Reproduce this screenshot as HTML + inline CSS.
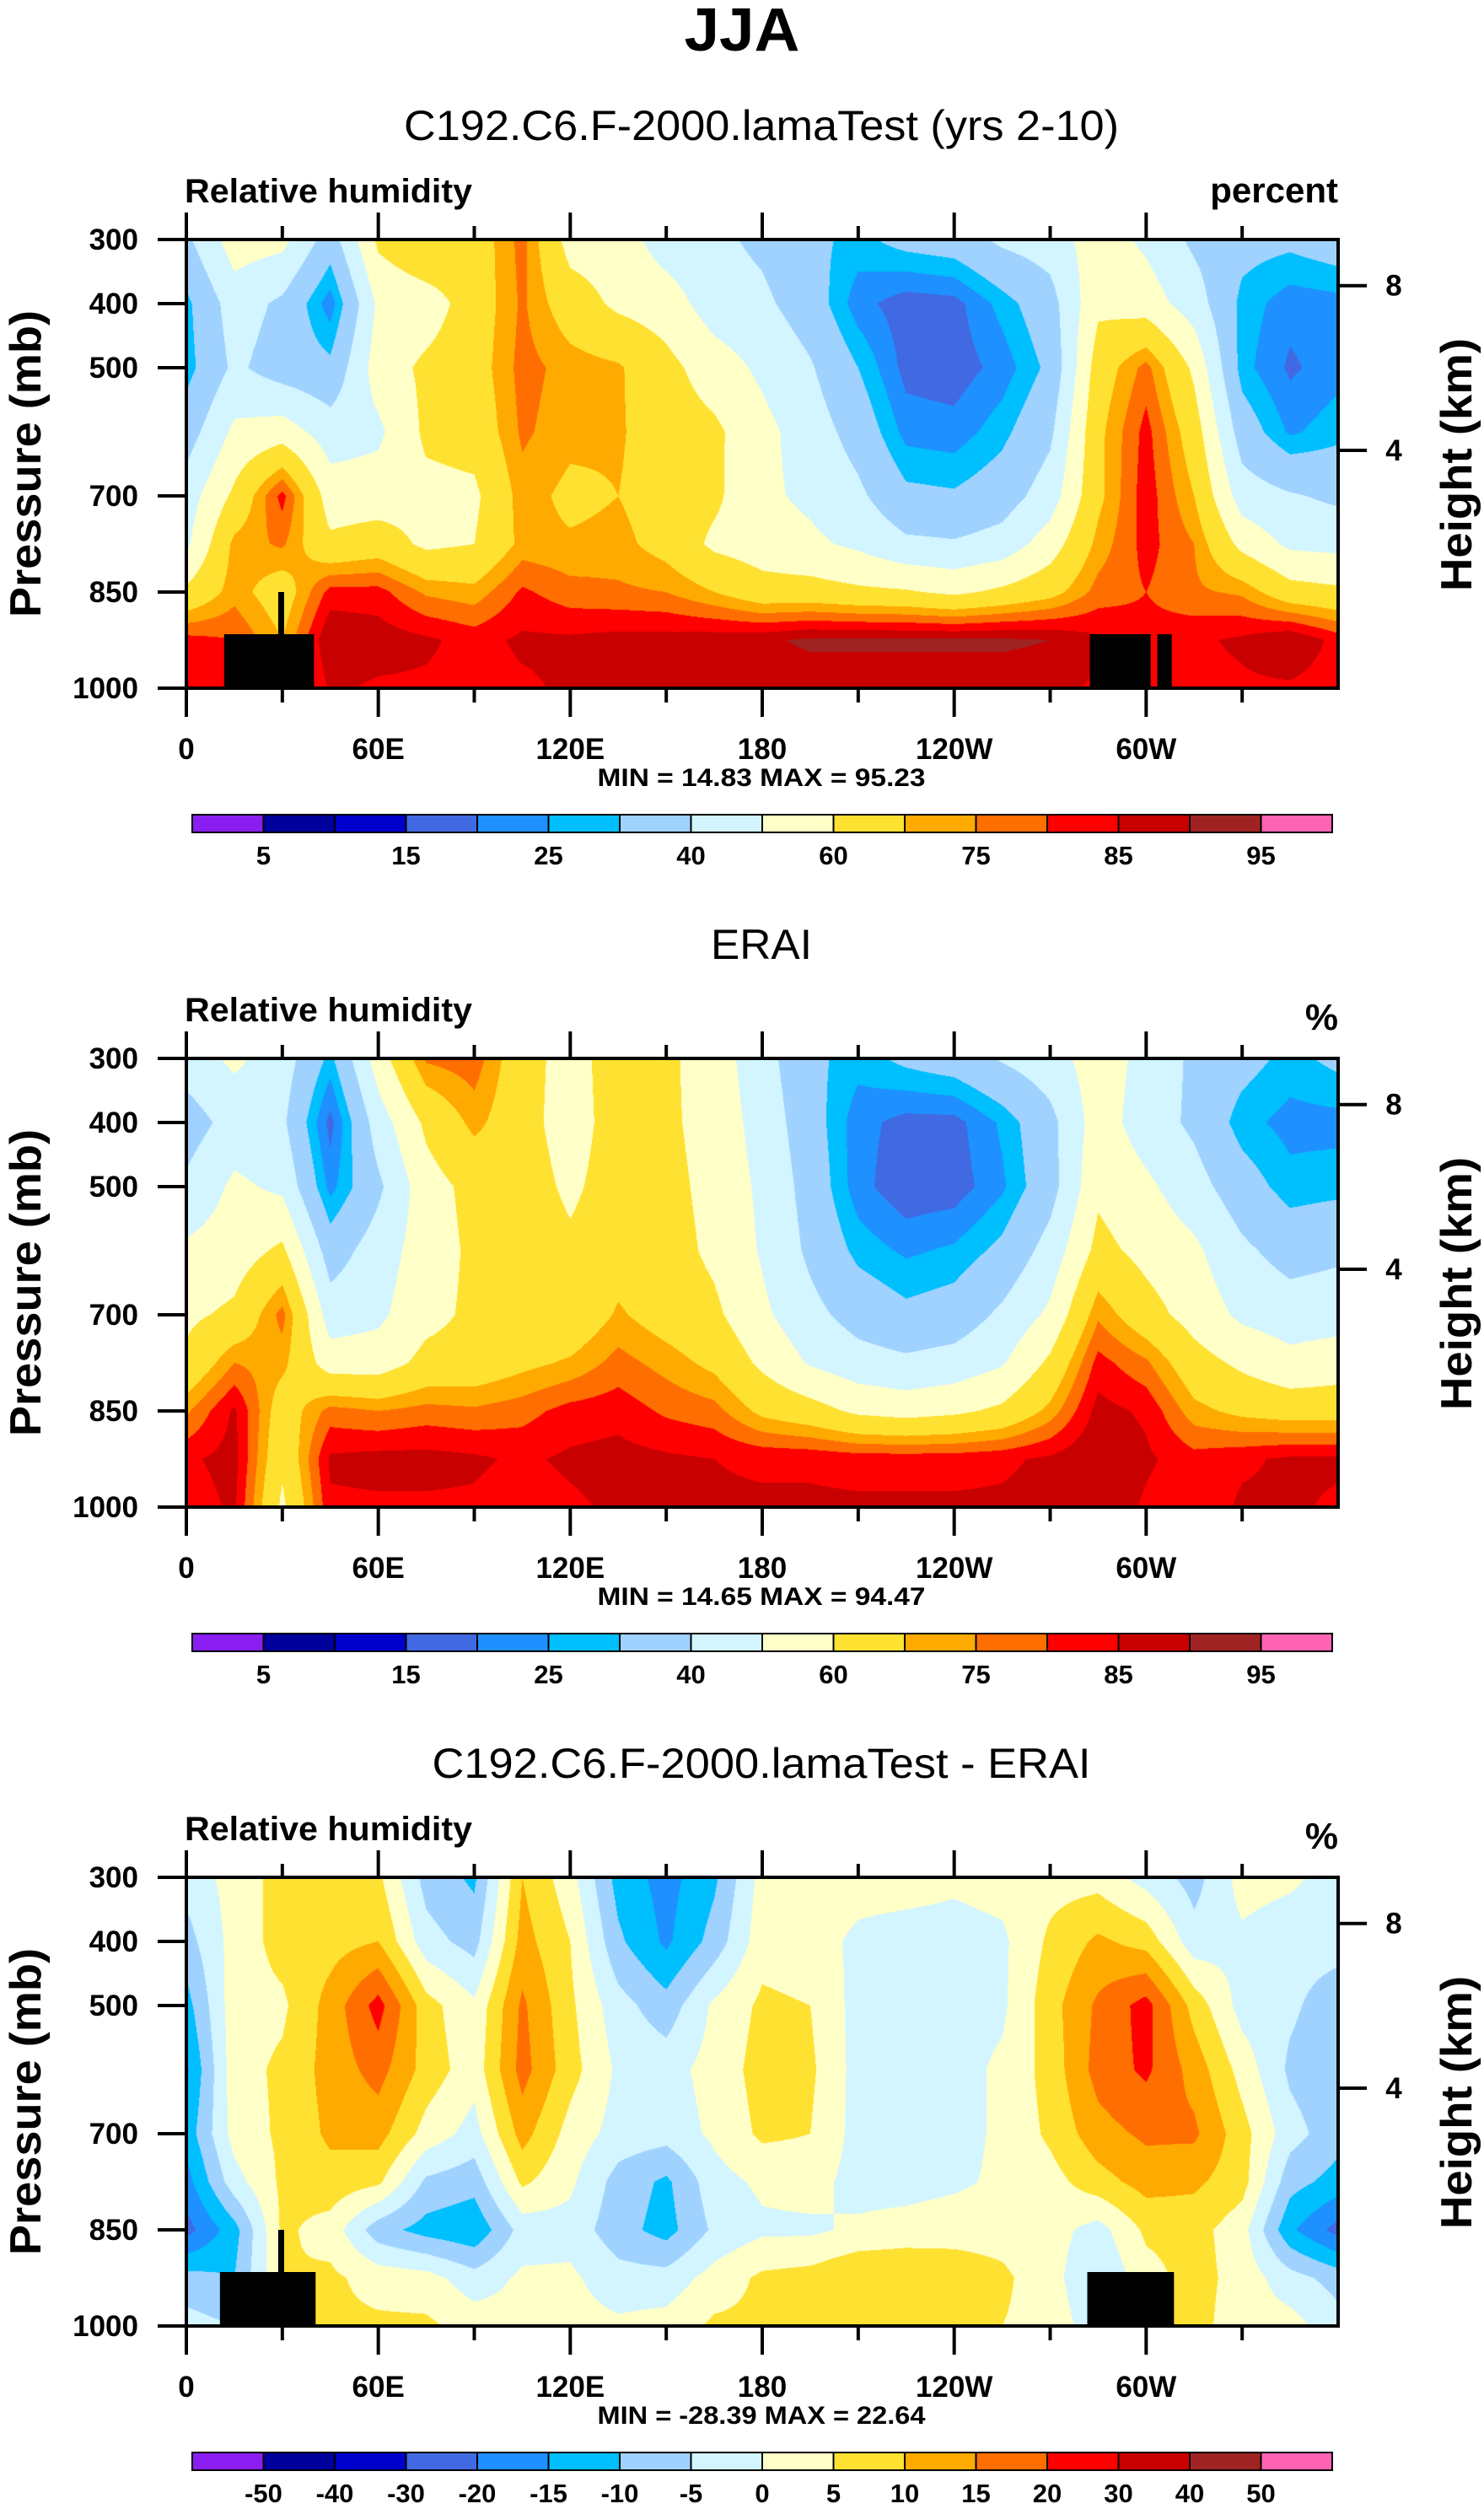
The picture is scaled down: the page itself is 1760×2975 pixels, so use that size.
<!DOCTYPE html>
<html><head><meta charset="utf-8"><title>JJA Relative humidity</title>
<style>
html,body{margin:0;padding:0;background:#fff;}
#root{position:relative;width:1760px;height:2975px;overflow:hidden;background:#fff;}
canvas{position:absolute;}
svg{position:absolute;left:0;top:0;}
text{font-family:"Liberation Sans",Arial,sans-serif;fill:#000;}
</style></head>
<body>
<div id="root">
<canvas id="c0" width="1366" height="532" style="left:221px;top:284px"></canvas>
<canvas id="c1" width="1366" height="532" style="left:221px;top:1255px"></canvas>
<canvas id="c2" width="1366" height="532" style="left:221px;top:2226px"></canvas>
<svg id="svg" width="1760" height="2975"></svg>
</div>
<script>
// ---- data ----
const lons = [0,15,30,45,60,75,90,105,120,135,150,165,180,195,210,225,240,255,270,285,300,315,330,345,360];
const levels = [300,400,500,600,700,775,850,925,1000];
const xTickLabels = ["0","60E","120E","180","120W","60W"];
const xTickLons = [0,60,120,180,240,300];
const yTickLabels = [300,400,500,700,850,1000];
const hTickLabels = ["8","4"];
const hTickP = [372,629];
const rhLevels = [5,10,15,20,25,30,40,50,60,70,75,80,85,90,95];
const rhLabels = ["5","15","25","40","60","75","85","95"];
const diffLevels = [-50,-40,-30,-20,-15,-10,-5,0,5,10,15,20,30,40,50];
const diffLabels = ["-50","-40","-30","-20","-15","-10","-5","0","5","10","15","20","30","40","50"];
const colors = ["#8a1ef0","#00009c","#0000cd","#4169e1","#1e90ff","#00bfff","#a0d2ff","#d2f5ff","#ffffc8","#ffe132","#ffaa00","#ff6e00","#ff0000","#c80000","#a02323","#ff64b4"];
// model RH: one row per longitude, values from 300 to 1000 mb
const modelRH = [
[38,28,27,35,45,48,62,82,82],[55,45,42,52,62,72,73,80,80],[53,38,35,55,82,76,65,70,70],
[35,22,32,45,55,62,82,90,86],[62,52,55,48,55,65,82,88,84],[70,55,62,62,57,58,74,86,84],
[65,65,66,64,58,60,72,83,83],[77,76,77,76,73,72,81,86,84],[56,65,73,72,68,71,77,86,86],
[55,58,71,71,70,72,76,87,87],[45,55,63,65,66,67,75,87,87],[42,45,55,62,62,58,70,88,87],
[38,42,48,53,52,55,64,89,87],[32,35,41,45,48,52,64,91,87],[28,22,30,36,42,48,62,91,87],
[33,17,18,23,32,42,61,91,87],[35,18,17,22,31,41,58,91,87],[42,27,22,28,35,44,62,91,87],
[45,36,32,38,45,55,67,90,87],[55,58,65,68,68,72,77,86,84],[48,55,77,82,83,82,80,82,82],
[38,45,58,65,70,75,76,84,83],[33,28,27,35,45,57,74,86,84],[32,22,19,24,41,48,64,90,84],
[35,23,23,28,38,47,62,83,82]];
const eraiRH = [
[45,35,42,52,58,62,74,84,82],[52,44,52,55,62,75,86,87,86],[45,42,48,62,77,72,65,62,58],
[28,18,23,35,45,55,77,86,84],[55,45,38,45,48,55,75,87,84],[76,62,56,55,57,63,77,87,84],
[78,72,63,62,62,64,76,86,84],[64,64,65,66,66,68,78,84,82],[56,55,58,62,63,71,82,86,84],
[65,65,65,66,71,77,83,87,86],[62,62,63,64,66,73,79,86,86],[55,56,57,58,62,68,77,85,86],
[44,46,48,49,52,58,68,84,86],[32,34,36,38,43,49,64,84,86],[27,22,22,28,36,44,58,83,86],
[32,18,16,24,32,42,56,83,86],[35,18,17,26,34,44,58,83,86],[41,26,24,32,42,49,62,84,86],
[46,37,36,44,52,62,72,86,87],[55,55,58,63,74,82,87,90,90],[47,45,52,57,64,76,84,86,84],
[38,38,44,52,56,64,72,82,81],[33,27,34,42,48,58,68,84,86],[28,23,27,36,45,53,66,86,86],
[32,23,28,38,46,55,66,86,84]];
const diffRH = [
[-3,-7,-12,-16,-13,-17,-22,-8,-3],[2,2,3,3,2,-2,-12,-10,-5],[7,7,4,6,6,6,6,5,5],
[8,8,12,12,11,8,3,6,6],[6,10,22,17,12,6,-8,3,6],[-7,-3,7,8,3,-6,-12,2,6],
[-11,-7,1,2,-2,-8,-14,-3,3],[10,12,16,17,12,6,-3,1,2],[2,5,6,7,3,1,-2,1,2],
[-12,-9,-3,-1,-2,-7,-8,-3,1],[-17,-16,-8,-2,-3,-11,-12,-3,2],[-11,-8,1,2,1,-2,-4,2,6],
[2,3,6,7,6,1,-1,6,6],[3,2,5,6,5,2,-1,7,6],[2,-1,-2,-2,-2,-2,1,10,7],
[2,-2,-3,-2,-2,-2,2,10,7],[1,-2,-2,-2,-2,-1,3,8,6],[2,-1,-1,1,1,1,3,6,5],
[3,6,8,7,6,3,2,2,3],[3,11,16,17,13,8,-2,-5,-3],[-2,8,22,21,16,12,6,3,3],
[-7,-3,8,13,16,11,7,7,7],[2,-1,-2,3,7,7,2,3,2],[1,-3,-4,-6,-3,-8,-14,-3,2],
[-2,-3,-8,-9,-8,-12,-22,-7,-3]];
// land mask blocks (lon ranges) per panel
const landBlocksA = [[11.8,39.9],[282.4,301.4],[303.5,308]];
const landBlocksC = [[10.5,40.4],[281.6,308.7]];
const landSpikeLon = 29.5;

// ---- geometry ----
const X0=221, X1=1587, Y0=284, PH=532, OFF=971;
const xOf = lon => X0 + lon/360*(X1-X0);
const yOf = (p,k) => Y0 + k*OFF + (p-300)/700*PH;
const NS="http://www.w3.org/2000/svg";
const svg=document.getElementById('svg');
function el(tag, attrs, parent){const e=document.createElementNS(NS,tag);for(const k in attrs)e.setAttribute(k,attrs[k]);(parent||svg).appendChild(e);return e;}
function txt(s,attrs,parent){const e=el('text',attrs,parent);e.textContent=s;return e;}

// ---- contour fill ----
function colorIdx(v,lv){let i=0;while(i<lv.length&&v>=lv[i])i++;return i;}
function hex(c){return [parseInt(c.substr(1,2),16),parseInt(c.substr(3,2),16),parseInt(c.substr(5,2),16)];}
const rgb=colors.map(hex);
function drawField(id,grid,lv){
  const cv=document.getElementById(id),ctx=cv.getContext('2d');
  const W=cv.width,H=cv.height,img=ctx.createImageData(W,H),d=img.data;
  for(let y=0;y<H;y++){
    const p=300+(y+0.5)/H*700;
    let j=0;while(j<levels.length-2&&p>levels[j+1])j++;
    const ty=(p-levels[j])/(levels[j+1]-levels[j]);
    for(let x=0;x<W;x++){
      const lon=(x+0.5)/W*360;
      let i=Math.min(Math.floor(lon/15),lons.length-2);
      const tx=(lon-lons[i])/15;
      const v=(grid[i][j]*(1-tx)+grid[i+1][j]*tx)*(1-ty)+(grid[i][j+1]*(1-tx)+grid[i+1][j+1]*tx)*ty;
      const c=rgb[colorIdx(v,lv)],o=(y*W+x)*4;
      d[o]=c[0];d[o+1]=c[1];d[o+2]=c[2];d[o+3]=255;
    }
  }
  ctx.putImageData(img,0,0);
}
drawField('c0',modelRH,rhLevels);
drawField('c1',eraiRH,rhLevels);
drawField('c2',diffRH,diffLevels);

// ---- titles ----
const t0=txt("JJA",{x:880,y:60,'text-anchor':'middle','font-size':72,'font-weight':'bold',textLength:137,lengthAdjust:'spacingAndGlyphs'});

const subtitles=["C192.C6.F-2000.lamaTest (yrs 2-10)","ERAI","C192.C6.F-2000.lamaTest - ERAI"];
const subLens=[848,120,781];
const units=["percent","%","%"];
const minmax=["MIN =  14.83  MAX =  95.23","MIN =  14.65  MAX =  94.47","MIN = -28.39  MAX =  22.64"];

for(let k=0;k<3;k++){
  const g=el('g',{});
  
  const oy=k*OFF;
  let e=txt(subtitles[k],{x:903,y:166+oy,'text-anchor':'middle','font-size':50,textLength:subLens[k],lengthAdjust:'spacingAndGlyphs'},g);
  
  e=txt("Relative humidity",{x:219,y:240+oy,'font-size':40,'font-weight':'bold',textLength:341,lengthAdjust:'spacingAndGlyphs'},g);
  
  e=txt(units[k],{x:1587,y:(k==0?240:250)+oy,'text-anchor':'end','font-size':k==0?42:44,'font-weight':'bold'},g);
  
  // land
  const blocks=(k==0)?landBlocksA:(k==2?landBlocksC:[]);
  for(const b of blocks){
    e=el('rect',{x:xOf(b[0]),y:yOf(925,k)-7,width:xOf(b[1])-xOf(b[0]),height:yOf(1000,k)-yOf(925,k)+7,fill:'#000'},g);
    
  }
  if(k!=1){
    e=el('rect',{x:xOf(landSpikeLon)-3,y:yOf(850,k),width:7,height:yOf(925,k)-yOf(850,k),fill:'#000'},g);
    
  }
  // frame
  e=el('rect',{x:X0,y:Y0+oy,width:X1-X0,height:PH,fill:'none',stroke:'#000','stroke-width':4},g);
  
  // x ticks
  for(let lon=0;lon<=330;lon+=30){
    const major=lon%60==0, x=xOf(lon);
    el('line',{x1:x,x2:x,y1:Y0+oy-(major?32:16),y2:Y0+oy,stroke:'#000','stroke-width':4},g);
    el('line',{x1:x,x2:x,y1:Y0+oy+PH,y2:Y0+oy+PH+(major?34:17),stroke:'#000','stroke-width':4},g);
  }
  for(let i=0;i<xTickLabels.length;i++){
    e=txt(xTickLabels[i],{x:xOf(xTickLons[i]),y:900+oy,'text-anchor':'middle','font-size':35,'font-weight':'bold'},g);
    
  }
  for(const p of yTickLabels){
    const y=yOf(p,k);
    el('line',{x1:187,x2:X0,y1:y,y2:y,stroke:'#000','stroke-width':4},g);
    e=txt(String(p),{x:164,y:y+12,'text-anchor':'end','font-size':35,'font-weight':'bold'},g);
    
  }
  for(let i=0;i<hTickLabels.length;i++){
    const y=yOf(hTickP[i],k);
    el('line',{x1:X1,x2:1621,y1:y,y2:y,stroke:'#000','stroke-width':4},g);
    e=txt(hTickLabels[i],{x:1653,y:y+12,'text-anchor':'middle','font-size':35,'font-weight':'bold'},g);
    
  }
  e=txt("Pressure (mb)",{x:0,y:0,'text-anchor':'middle','font-size':52,'font-weight':'bold',textLength:364,lengthAdjust:'spacingAndGlyphs',transform:`translate(48,${550+oy}) rotate(-90)`},g);
  
  e=txt("Height (km)",{x:0,y:0,'text-anchor':'middle','font-size':52,'font-weight':'bold',textLength:300,lengthAdjust:'spacingAndGlyphs',transform:`translate(1745,${551+oy}) rotate(-90)`},g);
  
  e=txt(minmax[k],{x:903,y:932+oy,'text-anchor':'middle','font-size':30,'font-weight':'bold',textLength:389,lengthAdjust:'spacingAndGlyphs'},g);
  
  // colorbar
  const cb=el('g',{},g);
  
  const cx0=228,cw=(1580-228)/16,cy=966+oy;
  for(let i=0;i<16;i++){
    e=el('rect',{x:cx0+i*cw,y:cy,width:cw,height:21,fill:colors[i],stroke:'#000','stroke-width':2},cb);
    
  }
  const lv=(k==2)?diffLevels:rhLevels;
  for(let i=0;i<lv.length;i++){
    if(k!=2 && i%2==1) continue;
    const lab = (k==2)?diffLabels[i]:rhLabels[i/2];
    e=txt(lab,{x:cx0+(i+1)*cw,y:1025+oy,'text-anchor':'middle','font-size':31,'font-weight':'bold'},cb);
    
  }
}
</script>
</body></html>
